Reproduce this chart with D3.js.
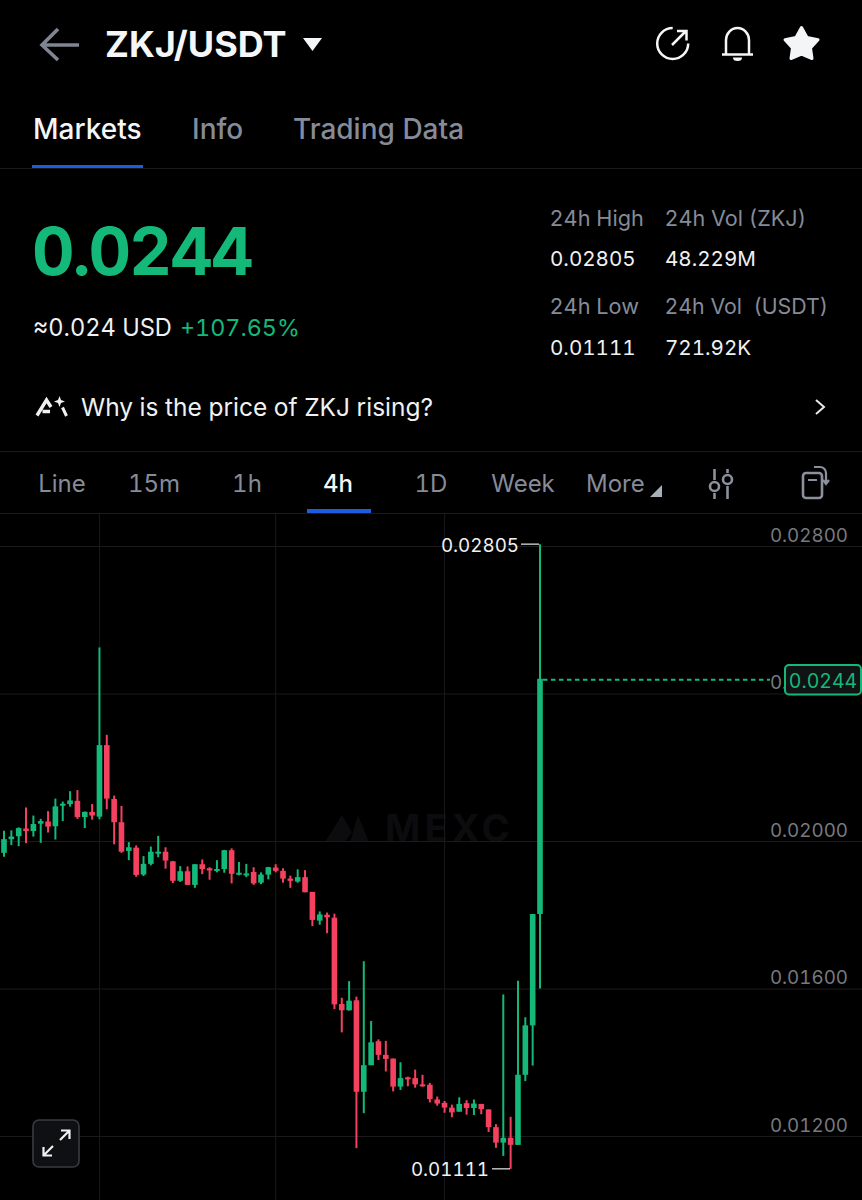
<!DOCTYPE html>
<html><head><meta charset="utf-8">
<script src="https://cdn.jsdelivr.net/npm/d3@7"></script>
<style>html,body{margin:0;padding:0;background:#000}svg{display:block}text{font-family:Inter,"Noto Sans",sans-serif;font-variant-numeric:tabular-nums}</style>
</head><body><svg id="c" width="862" height="1200"></svg>
<script>
// candles, in order, values in USDT
const opens=[.01968,.02005,.02013,.02034,.02027,.02047,.02053,.0204,.02096,.021,.02109,.02065,.02079,.02066,.0226,.02114,.02051,.01973,.01982,.01909,.01938,.01967,.01971,.01945,.01892,.01918,.01881,.01937,.01926,.01919,.01924,.01975,.0191,.01908,.01916,.01887,.01909,.01928,.01919,.01898,.0189,.01902,.01862,.01784,.018,.01792,.01558,.01541,.01568,.0132,.01392,.01457,.0142,.0141,.01334,.01359,.01357,.0134,.01339,.01299,.0129,.01277,.01266,.01289,.01276,.01287,.01272,.01224,.01182,.01195,.01176,.01366,.015,.01802];
const highs=[.02028,.02029,.02037,.02091,.02069,.0206,.02081,.02115,.02107,.02135,.02138,.0208,.021,.02525,.02288,.02123,.02095,.01997,.01988,.01959,.01985,.02014,.01983,.01946,.01932,.01931,.01937,.0195,.01929,.01948,.01976,.0198,.01943,.01938,.01929,.01915,.0193,.01937,.01926,.01906,.01923,.01921,.01862,.01809,.01806,.01803,.01575,.0162,.01578,.01674,.01512,.01462,.01458,.0141,.014,.01361,.0138,.01366,.01344,.01307,.01295,.01285,.01305,.01297,.01299,.01287,.01272,.01232,.01584,.01252,.01621,.01522,.01802,.02805];
const lows=[.01957,.01989,.01986,.01994,.02012,.01995,.02023,.02004,.02054,.02093,.0206,.02035,.02058,.02059,.02086,.01991,.01968,.01948,.01903,.01905,.01934,.01956,.01925,.01886,.01889,.01881,.01873,.0191,.01895,.01915,.01914,.01885,.01907,.01902,.01881,.01883,.01896,.01915,.01887,.01873,.01887,.01861,.01769,.01773,.0175,.01544,.01481,.0154,.01167,.01262,.01392,.01406,.01375,.01321,.01325,.01335,.01331,.01334,.01291,.01282,.01263,.01251,.01266,.01258,.01257,.01259,.01211,.01168,.01146,.01111,.01176,.01349,.01391,.016];
const closes=[.02005,.02012,.02035,.02027,.02046,.02054,.02039,.02094,.02101,.0211,.02065,.02079,.02069,.0226,.02115,.02051,.01971,.01983,.01908,.01938,.01971,.01971,.01947,.01892,.01918,.01881,.01937,.01924,.0192,.01924,.01975,.01911,.01914,.01912,.01885,.01909,.01929,.01919,.01898,.01892,.01902,.01861,.01786,.01801,.01793,.01557,.01541,.01567,.0132,.01392,.01454,.0142,.01409,.01334,.01357,.01355,.0134,.01336,.013,.01288,.01277,.01264,.01287,.01276,.01288,.01273,.01224,.01182,.01195,.01176,.01366,.015,.01802,.0244];
const priceTicks=[.028,.024,.02,.016,.012];
const timeGridIndex=[13,37,60];
const periods=["Line","15m","1h","4h","1D","Week","More"];
const tabs=["Markets","Info","Trading Data"];
const highPrice=.02805, lowPrice=.01111, lastPrice=.0244;

const GREEN="#14b97a", RED="#f4415f", GREY="#858b98";
const svg=d3.select("#c");
svg.append("rect").attr("width",862).attr("height",1200).attr("fill","#000");

const x=d3.scaleLinear().domain([0,opens.length-1]).range([4,540]);
const y=d3.scaleLinear().domain([.012,.028]).range([1136,546]);

function T(s,px,py,size,fill,weight,anchor,ls){
  return svg.append("text").text(s).attr("x",px).attr("y",py).attr("font-size",size).attr("fill",fill)
    .attr("font-weight",weight||400).attr("text-anchor",anchor||"start").attr("letter-spacing",ls||null);
}
// Header
svg.append("path").attr("d","M79 45H42M58 29L42 45L58 60").attr("fill","none").attr("stroke","#7f8592").attr("stroke-width",3.6);
T("ZKJ/USDT",105,57,36,"#f5f6f7",700);
svg.append("path").attr("d","M303 38H322L312.5 51Z").attr("fill","#f5f6f7");
const ic=svg.append("g").attr("fill","none").attr("stroke","#f5f6f7").attr("stroke-width",2.5);
ic.append("path").attr("d","M672.700 28A15.500 15.500 0 1 0 688.200 43.500");
ic.append("path").attr("d","M672 45L685.500 31.500M677 31H686.500V40.500");
ic.append("path").attr("d","M722 54.500H753M726 54.500V40A11.500 12 0 0 1 749 40V54.500");
svg.append("path").attr("d","M733 57.500H742A4.500 3.500 0 0 1 733 57.500Z").attr("fill","#f5f6f7");
svg.append("path").attr("d","M801.500 27.500L807 37.500L818 39.800L810.500 48L812 58.500L801.500 54L791 58.500L792.500 48L785 39.800L796 37.500Z")
  .attr("fill","#f4f5f6").attr("stroke","#f4f5f6").attr("stroke-width",3).attr("stroke-linejoin","round");
// Tabs
T(tabs[0],33,139,28,"#f5f6f7",500);
T(tabs[1],192,139,28,GREY,500);
T(tabs[2],293,139,28,GREY,500);
svg.append("rect").attr("x",32).attr("y",165).attr("width",111).attr("height",4).attr("fill","#1d5be0");
svg.append("rect").attr("x",0).attr("y",168).attr("width",862).attr("height",1).attr("fill","#1a1a1d");
// Price block
T("0.0244",32,275,66,GREEN,700,"start",-1.9);
T("≈0.024 USD",33,336,23.6,"#f0f1f2",400);
T("+107.65%",180,336,23.3,GREEN,400);
T("24h High",549.5,226,21.7,GREY); T("24h Vol (ZKJ)",664.5,226,21.6,GREY);
T("0.02805",550,266,20.6,"#f0f1f2"); T("48.229M",665,266,20.6,"#f0f1f2");
T("24h Low",549.5,314,21.7,GREY); T("24h Vol  (USDT)",664.5,314,21.3,GREY).style("white-space","pre");
T("0.01111",550,355,20.6,"#f0f1f2"); T("721.92K",665,355,20.6,"#f0f1f2");
// Prompt line
const ai=svg.append("g").attr("fill","none").attr("stroke","#f0f1f2");
ai.append("path").attr("d","M37 415.500L46.500 400L51 407M42.500 411.500H50").attr("stroke-width",3.4);
ai.append("path").attr("d","M62.500 407.500L66.500 416").attr("stroke-width",3);
svg.append("path").attr("d","M59.500 396L61 400L65 401.500L61 403L59.500 407L58 403L54 401.500L58 400Z").attr("fill","#f0f1f2");
T("Why is the price of ZKJ rising?",81,416,24.5,"#f0f1f2");
svg.append("path").attr("d","M816 400L824 407L816 414").attr("fill","none").attr("stroke","#e8e9ea").attr("stroke-width",2);
svg.append("rect").attr("x",0).attr("y",451).attr("width",862).attr("height",1).attr("fill","#1a1a1d");
// Periods
const pX=[62,154,247,338,431,523,586];
periods.forEach((p,i)=>{T(p,pX[i],492,24,p==="4h"?"#f5f6f7":GREY,p==="4h"?500:400,p==="More"?"start":"middle");});
svg.append("path").attr("d","M650 497L662 485V497Z").attr("fill","#a9aebb");
svg.append("rect").attr("x",307).attr("y",509).attr("width",64).attr("height",4).attr("fill","#1d5be0");
svg.append("rect").attr("x",0).attr("y",513).attr("width",862).attr("height",1).attr("fill","#1a1a1d");
const st=svg.append("g").attr("fill","none").attr("stroke","#8b909c").attr("stroke-width",2.6);
st.append("path").attr("d","M714.500 469V480M714.500 493V499M727.500 469V473M727.500 486V499");
st.append("circle").attr("cx",714.5).attr("cy",486.5).attr("r",4.5);
st.append("circle").attr("cx",727.5).attr("cy",479.5).attr("r",4.5);
st.append("rect").attr("x",803).attr("y",473).attr("width",19).attr("height",25).attr("rx",3);
st.append("path").attr("d","M808 480H817M814 467H820A6 6 0 0 1 826 473V483M823 480L826 484L829 480").attr("stroke-width",2.2);

// Watermark
svg.append("path").attr("d","M325 842L342 815L352 832L345 842ZM350 842L358 815L369 842Z").attr("fill","#0c0c0e");
T("MEXC",385,842,38,"#0c0c0e",700,"start",4);

// Grid and axes
const axis=d3.axisRight(y).tickValues(priceTicks).tickSize(862).tickFormat(d3.format(".5f"));
const gy=svg.append("g").call(axis);
gy.select(".domain").remove();
gy.selectAll("line").attr("stroke","#1a1a1e").attr("stroke-width",1);
gy.selectAll("text").attr("x",848).attr("y",-5).attr("dy",0).attr("text-anchor","end").attr("font-size",18.8).attr("fill","#77797f")
  .attr("font-family","Inter,sans-serif");
svg.append("g").selectAll("line").data(timeGridIndex).join("line")
  .attr("x1",d=>x(d)).attr("x2",d=>x(d)).attr("y1",514).attr("y2",1200).attr("stroke","#1a1a1e");

// Candles
const idx=d3.range(opens.length);
const col=i=>closes[i]>=opens[i]?GREEN:RED;
const g=svg.append("g");
g.selectAll("line").data(idx).join("line")
  .attr("x1",i=>x(i)).attr("x2",i=>x(i)).attr("y1",i=>y(highs[i])).attr("y2",i=>y(lows[i]))
  .attr("stroke",col).attr("stroke-width",2);
g.selectAll("rect").data(idx).join("rect")
  .attr("x",i=>x(i)-2.8).attr("width",5.6)
  .attr("y",i=>y(Math.max(opens[i],closes[i])))
  .attr("height",i=>Math.max(2,Math.abs(y(opens[i])-y(closes[i]))))
  .attr("fill",col);

// Last price line and tag
const last=opens.length-1;
svg.append("line").attr("x1",x(last)+3).attr("x2",770).attr("y1",y(lastPrice)+1).attr("y2",y(lastPrice)+1)
  .attr("stroke",GREEN).attr("stroke-width",1.8).attr("stroke-dasharray","4.5 3.5");
svg.append("rect").attr("x",785).attr("y",665).attr("width",76).attr("height",29.5).attr("rx",4).attr("fill","#101214").attr("stroke",GREEN).attr("stroke-width",2);
T(d3.format(".4f")(lastPrice),823,688,19.5,GREEN,400,"middle");

// Extremes
T(d3.format(".5f")(highPrice),519,552,18.8,"#f0f1f2",400,"end");
svg.append("line").attr("x1",521).attr("x2",539).attr("y1",y(highPrice)).attr("y2",y(highPrice)).attr("stroke","#c9cacc").attr("stroke-width",1.4);
T(d3.format(".5f")(lowPrice),489,1176,18.8,"#f0f1f2",400,"end");
svg.append("line").attr("x1",492).attr("x2",510).attr("y1",y(lowPrice)).attr("y2",y(lowPrice)).attr("stroke","#c9cacc").attr("stroke-width",1.4);

// Expand button
svg.append("rect").attr("x",33).attr("y",1120).attr("width",46).attr("height",47).attr("rx",6).attr("fill","#0f1012").attr("stroke","#3a3b40").attr("stroke-width",1.6);
svg.append("path").attr("d","M60 1140L69.500 1130.500M61 1130.500H69.500V1139M53 1146L43.500 1155.500M43.500 1147V1155.500H52").attr("fill","none").attr("stroke","#f0f1f2").attr("stroke-width",2.2);
</script></body></html>
